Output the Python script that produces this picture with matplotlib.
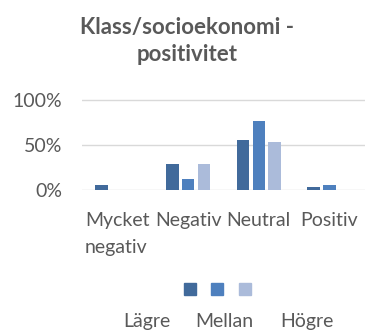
import matplotlib.pyplot as plt
import numpy as np
from matplotlib.patches import Rectangle
from matplotlib.ticker import PercentFormatter

categories = ["Mycket\nnegativ", "Negativ", "Neutral", "Positiv"]
series = ["Lägre", "Mellan", "Högre"]
lagre = [0.06, 0.285, 0.555, 0.037]
mellan = [0.0, 0.12, 0.77, 0.055]
hogre = [0.0, 0.285, 0.537, 0.0]
colors = ["#416A9B", "#4E80BE", "#ABBBDA"]

plt.rcParams['font.family'] = ['Lato', 'DejaVu Sans']
txt = "#595959"

W, H = 371, 332
fig = plt.figure(figsize=(W / 100, H / 100), dpi=100)

# axes box in pixel terms: x 82..365, 0% at y=190, 100% at y=100
top = 1.02
ax = fig.add_axes([82 / W, 1 - 190 / H, 283 / W, 90 * top / H])

x = np.arange(len(categories))
width = 0.18
step = 0.226
for i, (vals, c) in enumerate(zip([lagre, mellan, hogre], colors)):
    ax.bar(x + (i - 1) * step, vals, width, color=c, zorder=3)

ax.set_xlim(-0.5, len(categories) - 0.5)
ax.set_ylim(0, top)
ax.set_yticks([0, 0.5, 1.0])
ax.yaxis.set_major_formatter(PercentFormatter(1.0, decimals=0))
ax.grid(axis='y', color="#D9D9D9", linewidth=1, zorder=0)
for s in ax.spines.values():
    s.set_visible(False)
ax.tick_params(length=0, labelsize=14, colors=txt)
ax.tick_params(axis='x', pad=16)
ax.tick_params(axis='y', pad=14)
ax.set_xticks(x)
ax.set_xticklabels(categories, multialignment='left')
for lbl in ax.get_xticklabels():
    lbl.set_linespacing(1.7)

fig.text(187 / W, 1 - 41 / H, "Klass/socioekonomi -\npositivitet", ha='center',
         va='center', fontsize=16, fontweight='bold', color=txt, linespacing=1.3)

# legend: squares in one row, names underneath
for cx, c in zip([190, 217, 245], colors):
    fig.patches.append(Rectangle(((cx - 6) / W, 1 - (289 + 6) / H), 12 / W, 12 / H,
                                 transform=fig.transFigure, color=c))
for cx, name in zip([147, 224, 307], series):
    fig.text(cx / W, 1 - 327 / H, name, ha='center', va='baseline', fontsize=14, color=txt)

fig.savefig("out.png", dpi=100)
